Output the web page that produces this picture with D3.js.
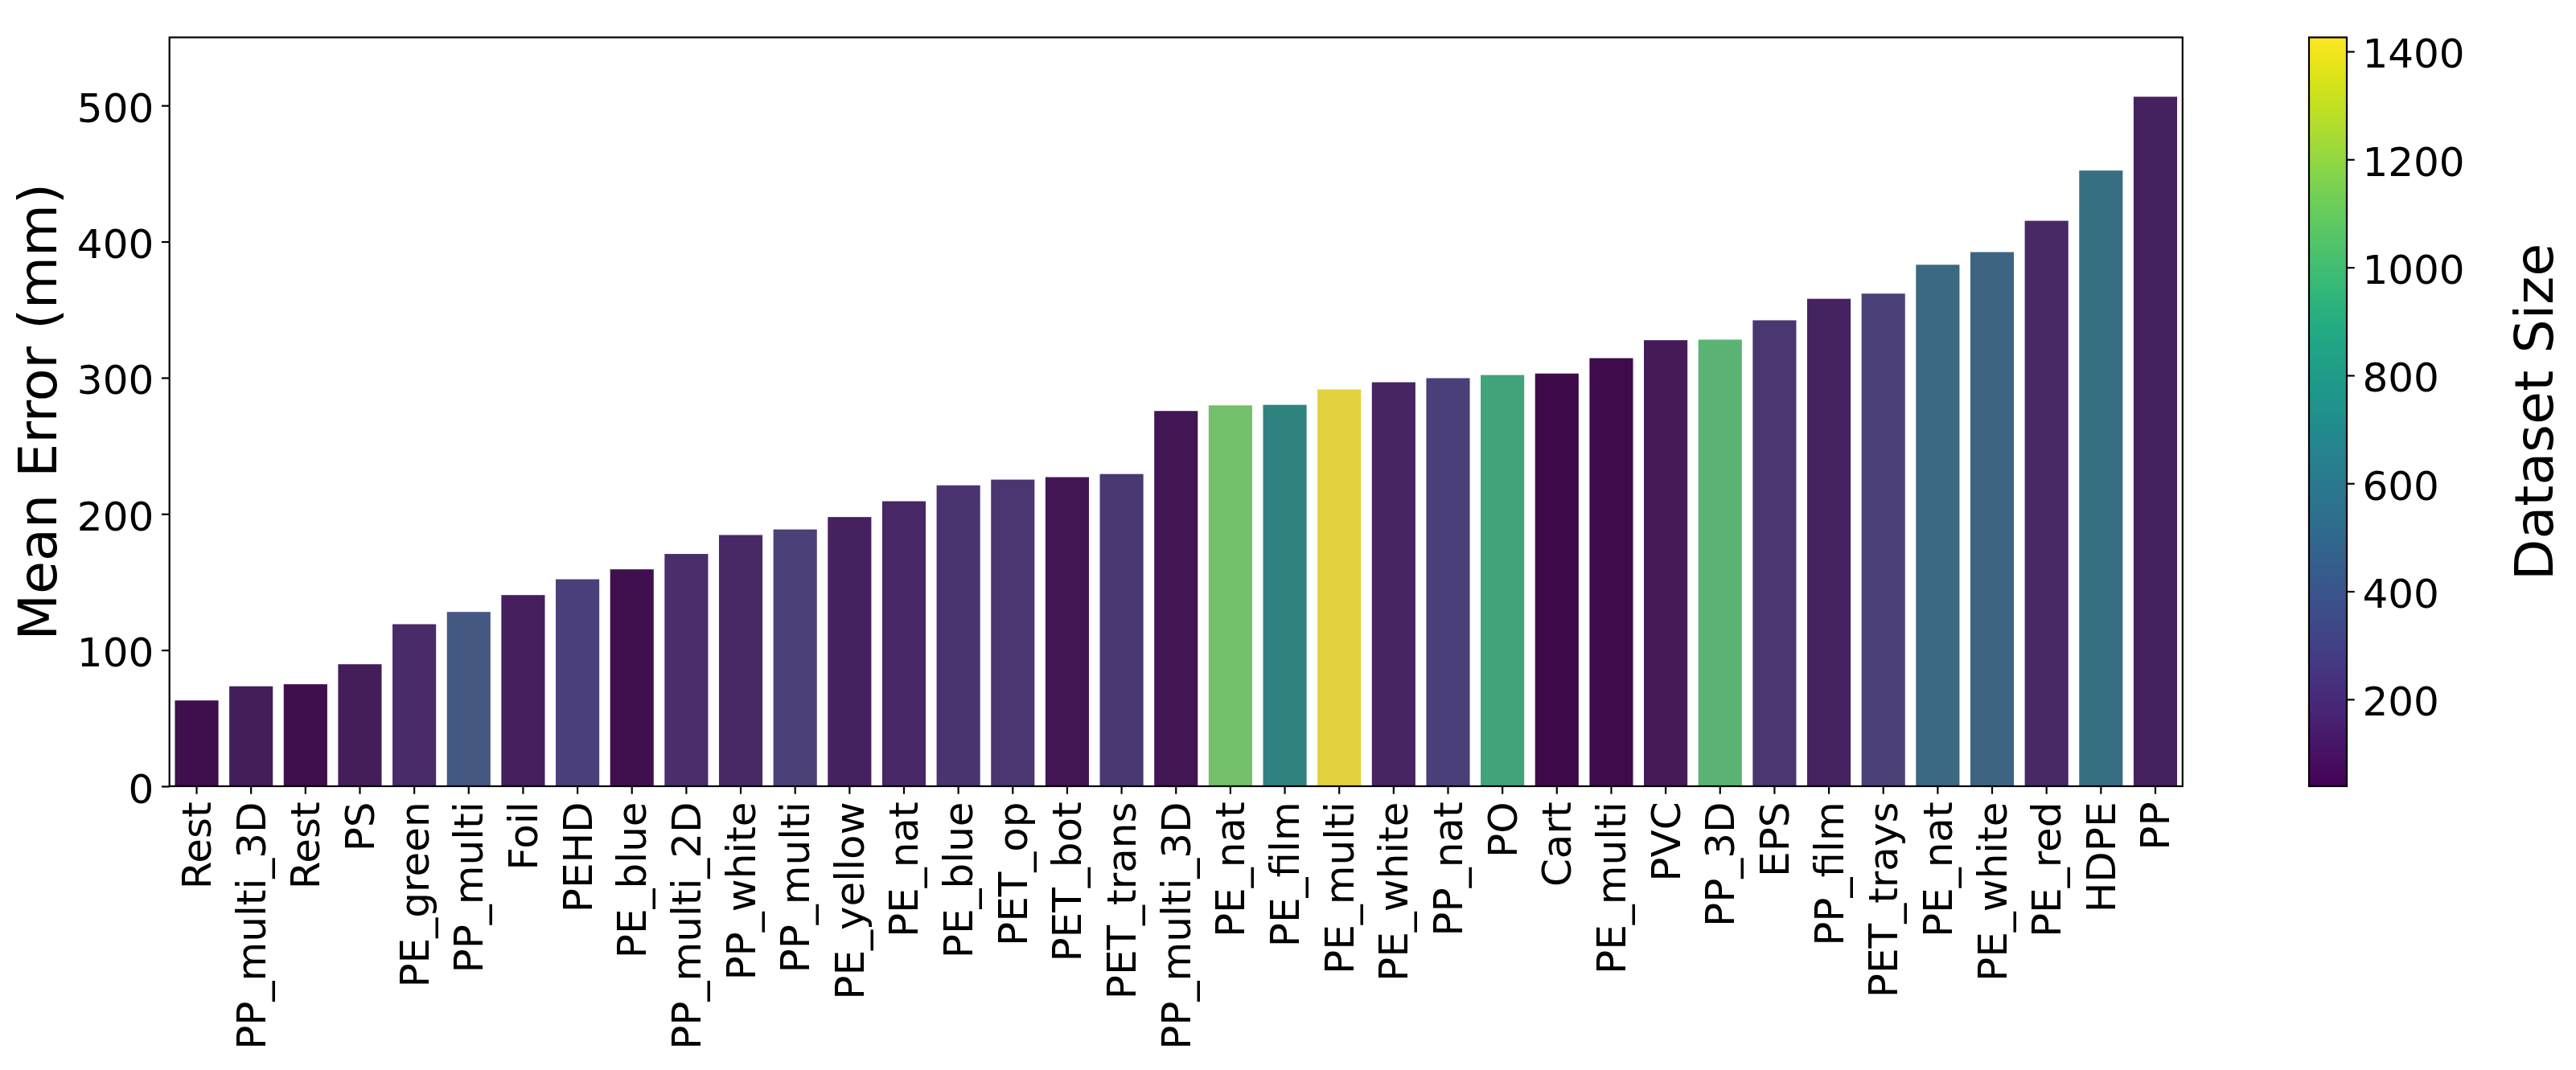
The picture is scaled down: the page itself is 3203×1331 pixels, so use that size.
<!DOCTYPE html>
<html>
<head>
<meta charset="utf-8">
<script src="https://cdn.jsdelivr.net/npm/d3@7"></script>
<style>
  html, body { margin: 0; padding: 0; background: #ffffff; }
  svg { display: block; }
  text { font-family: "DejaVu Sans", sans-serif; fill: #000; }
</style>
</head>
<body>
<svg id="chart" width="3203" height="1331"></svg>
<script>
const categories = ["Rest","PP_multi_3D","Rest","PS","PE_green","PP_multi","Foil","PEHD","PE_blue","PP_multi_2D",
  "PP_white","PP_multi","PE_yellow","PE_nat","PE_blue","PET_op","PET_bot","PET_trans","PP_multi_3D","PE_nat",
  "PE_film","PE_multi","PE_white","PP_nat","PO","Cart","PE_multi","PVC","PP_3D","EPS",
  "PP_film","PET_trays","PE_nat","PE_white","PE_red","HDPE","PP"];
const meanError = [63, 73.4, 74.9, 89.6, 119, 128, 140.4, 152, 159.3, 170.6,
  184.5, 188.6, 197.7, 209.3, 221, 225.2, 227, 229.3, 275.6, 279.7,
  280.1, 291.4, 296.7, 299.7, 302, 303.1, 314.4, 327.6, 328, 342.2,
  358, 361.8, 383, 392.3, 415.3, 452.2, 506.4];
const datasetSize = [53, 108, 50, 105, 164, 400, 110, 254, 60, 178,
  157, 261, 122, 150, 205, 212, 80, 220, 82, 1107,
  732, 1426, 136, 254, 940, 39, 45, 95, 1031, 212,
  130, 261, 525, 497, 157, 580, 122];
const yTicks = [0, 100, 200, 300, 400, 500];
const cbTicks = [200, 400, 600, 800, 1000, 1200, 1400];
const yLabel = "Mean Error (mm)";
const cbLabel = "Dataset Size";

const svg = d3.select("#chart");
const L = 210.7, R = 2713.8, T = 46.5, B = 978;
const tick = 9.7, pad = 9.7, lw = 2.2;
const tickFont = 50, labelFont = 66.7;

const x = d3.scaleBand().domain(d3.range(categories.length)).range([L, R])
  .paddingInner(0.2).paddingOuter(0.1);
const y = d3.scaleLinear().domain([0, 550]).range([B, T]);
const cmin = d3.min(datasetSize), cmax = d3.max(datasetSize);
const color = d3.scaleSequential(d3.interpolateViridis).domain([cmin, cmax]);
function desat(c) { const h = d3.hsl(c); h.s *= 0.75; return h.formatHex(); }

// bars
svg.append("g").selectAll("rect").data(meanError).join("rect")
  .attr("x", (d, i) => x(i))
  .attr("width", x.bandwidth())
  .attr("y", d => y(d))
  .attr("height", d => y(0) - y(d))
  .attr("fill", (d, i) => desat(color(datasetSize[i])));

// y axis
const gy = svg.append("g").attr("transform", `translate(${L},0)`)
  .call(d3.axisLeft(y).tickValues(yTicks).tickSize(tick).tickPadding(pad).tickFormat(d3.format("d")));
gy.select(".domain").remove();
gy.selectAll(".tick line").attr("stroke", "#000").attr("stroke-width", lw);
gy.selectAll(".tick text").attr("font-size", tickFont).attr("font-family", "DejaVu Sans").attr("dy", "0.4em");

// x axis
const gx = svg.append("g").attr("transform", `translate(0,${B})`)
  .call(d3.axisBottom(x).tickFormat(i => categories[i]).tickSize(tick));
gx.select(".domain").remove();
gx.selectAll(".tick line").attr("stroke", "#000").attr("stroke-width", lw);
gx.selectAll(".tick text")
  .attr("font-size", tickFont).attr("font-family", "DejaVu Sans")
  .attr("transform", "rotate(-90)")
  .attr("x", -(tick + pad)).attr("y", 0).attr("dy", "0.35em")
  .attr("text-anchor", "end");

// frame
svg.append("rect").attr("x", L).attr("y", T).attr("width", R - L).attr("height", B - T)
  .attr("fill", "none").attr("stroke", "#000").attr("stroke-width", lw);

// y label
svg.append("text").attr("transform", `translate(70,${(T + B) / 2}) rotate(-90)`)
  .attr("text-anchor", "middle").attr("font-size", labelFont).text(yLabel);

// colorbar
const CL = 2871, CR = 2918;
const cy = d3.scaleLinear().domain([cmin, cmax]).range([B, T]);
const defs = svg.append("defs");
const grad = defs.append("linearGradient").attr("id", "cbgrad")
  .attr("x1", "0").attr("y1", "1").attr("x2", "0").attr("y2", "0");
d3.range(0, 1.0001, 0.02).forEach(t => {
  grad.append("stop").attr("offset", t).attr("stop-color", d3.interpolateViridis(t));
});
svg.append("rect").attr("x", CL).attr("y", T).attr("width", CR - CL).attr("height", B - T)
  .attr("fill", "url(#cbgrad)").attr("stroke", "#000").attr("stroke-width", lw);
const gc = svg.append("g").attr("transform", `translate(${CR},0)`)
  .call(d3.axisRight(cy).tickValues(cbTicks).tickSize(tick).tickPadding(pad).tickFormat(d3.format("d")));
gc.select(".domain").remove();
gc.selectAll(".tick line").attr("stroke", "#000").attr("stroke-width", lw);
gc.selectAll(".tick text").attr("font-size", tickFont).attr("font-family", "DejaVu Sans").attr("dy", "0.4em");

svg.append("text").attr("transform", `translate(3174,${(T + B) / 2}) rotate(-90)`)
  .attr("text-anchor", "middle").attr("font-size", labelFont).text(cbLabel);
</script>
</body>
</html>
